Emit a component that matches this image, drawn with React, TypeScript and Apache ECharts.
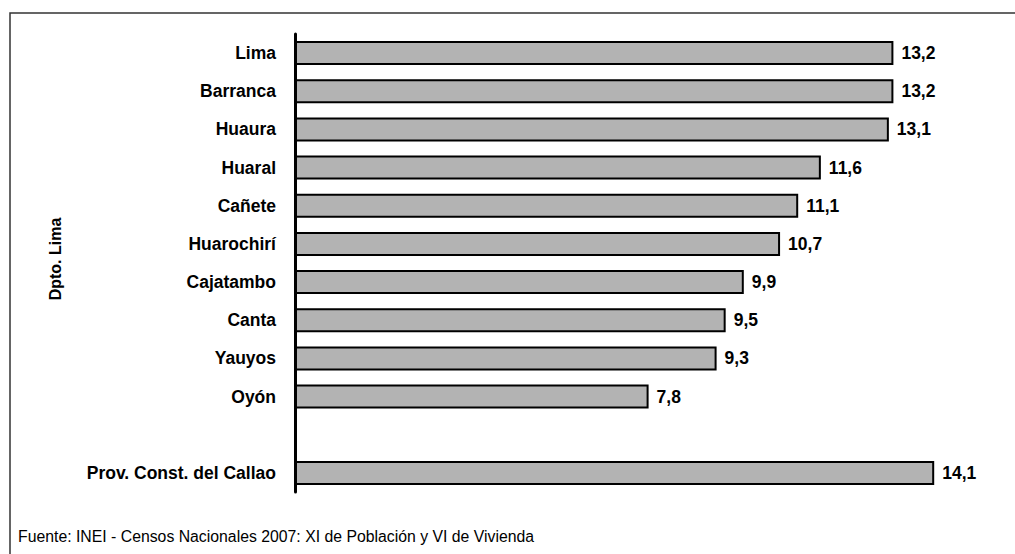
import React, { useEffect, useRef } from "react";
import * as echarts from "echarts";

const categories = [
  "Lima",
  "Barranca",
  "Huaura",
  "Huaral",
  "Cañete",
  "Huarochirí",
  "Cajatambo",
  "Canta",
  "Yauyos",
  "Oyón",
  "",
  "Prov. Const. del Callao",
];
const values: (number | null)[] = [13.2, 13.2, 13.1, 11.6, 11.1, 10.7, 9.9, 9.5, 9.3, 7.8, null, 14.1];
const axisName = "Dpto. Lima";
const footer = "Fuente: INEI - Censos Nacionales 2007: XI de Población y VI de Vivienda";

const FONT = "'Liberation Sans', Arial, sans-serif";

export default function App() {
  const ref = useRef<HTMLDivElement>(null);
  useEffect(() => {
    if (!ref.current) return;
    const chart = echarts.init(ref.current, undefined, { renderer: "svg" });
    chart.setOption({
      animation: false,
      backgroundColor: "#ffffff",
      textStyle: { fontFamily: FONT },
      grid: { left: 295, top: 34, height: 458, width: 680, containLabel: false },
      xAxis: {
        type: "value",
        min: 0,
        max: 15,
        show: false,
      },
      yAxis: {
        type: "category",
        inverse: true,
        data: categories,
        axisLine: { show: true, lineStyle: { color: "#000", width: 3 } },
        axisTick: { show: false },
        splitLine: { show: false },
        axisLabel: {
          margin: 19,
          fontFamily: FONT,
          fontWeight: "bold",
          fontSize: 17.5,
          color: "#000",
        },
      },
      series: [
        {
          type: "bar",
          data: values,
          barWidth: 24,
          itemStyle: { color: "#b3b3b3", borderColor: "#000", borderWidth: 2 },
          label: {
            show: true,
            position: "right",
            distance: 8,
            fontFamily: FONT,
            fontWeight: "bold",
            fontSize: 17.5,
            color: "#000",
            formatter: (p: any) => (p.value == null ? "" : String(p.value.toFixed(1)).replace(".", ",")),
          },
        },
      ],
      graphic: [
        {
          type: "rect",
          shape: { x: 10, y: 13, width: 1100, height: 600 },
          style: { fill: "none", stroke: "#333", lineWidth: 1.5 },
          silent: true,
        },
        {
          type: "text",
          x: 55,
          y: 259,
          rotation: Math.PI / 2,
          style: {
            text: axisName,
            fontFamily: FONT,
            fontWeight: "bold",
            fontSize: 16,
            fill: "#000",
            align: "center",
            verticalAlign: "middle",
          },
        },
        {
          type: "text",
          x: 18,
          y: 536,
          style: {
            text: footer,
            fontFamily: FONT,
            fontSize: 15.8,
            fill: "#000",
            verticalAlign: "middle",
          },
        },
      ],
    });
    return () => chart.dispose();
  }, []);
  return (
    <div
      ref={ref}
      style={{ position: "absolute", left: 0, top: 0, width: 1015, height: 554 }}
    />
  );
}
